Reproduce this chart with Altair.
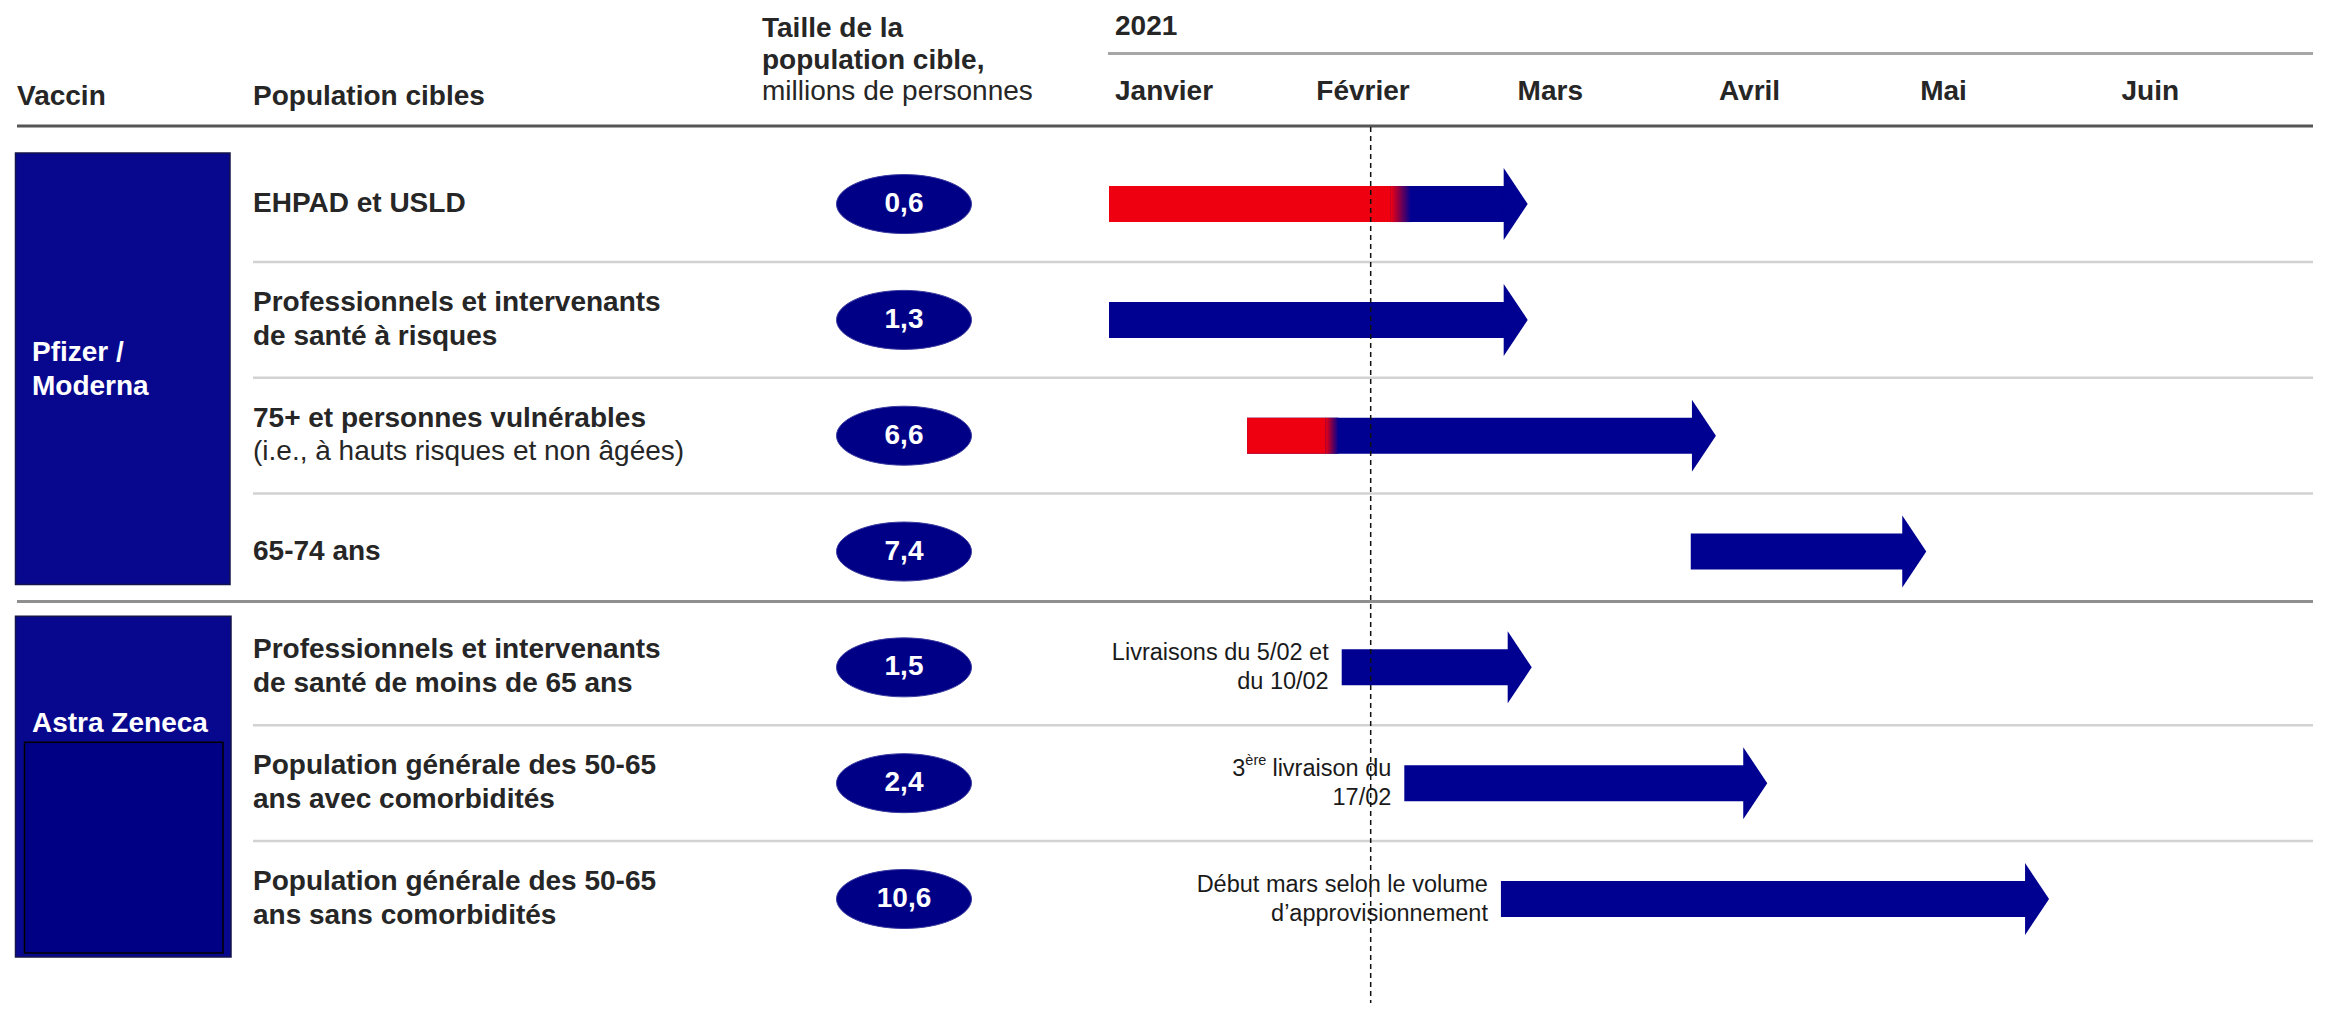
import altair as alt
import pandas as pd

# ---------------- data ----------------
vaccines = ["Pfizer / Moderna", "Astra Zeneca"]
vaccine_display = ["Pfizer /\nModerna", "Astra Zeneca"]
vaccine_first_row = [0, 4]
vaccine_last_row = [3, 6]

row_vaccine = ["Pfizer / Moderna"] * 4 + ["Astra Zeneca"] * 3
row_order = [0, 1, 2, 3, 4, 5, 6]
population = [
    "EHPAD et USLD",
    "Professionnels et intervenants\nde santé à risques",
    "75+ et personnes vulnérables",
    "65-74 ans",
    "Professionnels et intervenants\nde santé de moins de 65 ans",
    "Population générale des 50-65\nans avec comorbidités",
    "Population générale des 50-65\nans sans comorbidités",
]
population_detail = ["", "", "(i.e., à hauts risques et non âgées)", "", "", "", ""]
target_size_millions = [0.6, 1.3, 6.6, 7.4, 1.5, 2.4, 10.6]
# months after 1 January 2021 (0 = début janvier)
start_month = [0.0, 0.0, 0.686, 2.89, 1.156, 1.467, 1.947]
end_month = [2.08, 2.08, 3.015, 4.06, 2.10, 3.27, 4.67]
red_until_month = [1.40, None, 1.075, None, None, None, None]
blue_from_month = [1.50, None, 1.14, None, None, None, None]
note_text = ["", "", "", "",
             "Livraisons du 5/02 et\ndu 10/02",
             "livraison du\n17/02",
             "Début mars selon le volume\nd’approvisionnement"]
note_prefix = ["", "", "", "", "", "3", ""]
note_sup = ["", "", "", "", "", "ère", ""]

months = ["Janvier", "Février", "Mars", "Avril", "Mai", "Juin"]
month_number = [0, 1, 2, 3, 4, 5]
year_label = "2021"
today_month = 1.30

# ---------------- tables ----------------
groups = pd.DataFrame({"vaccine": vaccines, "display": vaccine_display,
                       "first_row": vaccine_first_row, "last_row": vaccine_last_row})
rows = pd.DataFrame({
    "vaccine": row_vaccine, "row": row_order, "population": population,
    "detail": population_detail, "size": target_size_millions,
    "start": start_month, "end": end_month,
    "red_until": red_until_month, "blue_from": blue_from_month,
    "note": note_text, "prefix": note_prefix, "sup": note_sup,
})
seps = pd.DataFrame({"y": [r + 0.5 for r, v, nv in zip(row_order, row_vaccine, row_vaccine[1:]) if v == nv]})
group_sep = pd.DataFrame({"y": [(vaccine_last_row[0] + vaccine_first_row[1]) / 2]})
month_df = pd.DataFrame({"month": months, "m": month_number})
year_df = pd.DataFrame({"year": [year_label], "m": [0]})
today_df = pd.DataFrame({"m": [today_month]})

# ---------------- layout / style ----------------
FONT = "Liberation Sans"
W, H = 2318, 995
ROW_PX, ROW0_PX = 117, 193
MONTH_PX, MONTH0_PX = 201.3, 1101
TEXT = "#262626"
NAVY = "#000091"
BOX = "#08088f"
RED = "#ee0010"

xscale = alt.Scale(domain=[-MONTH0_PX / MONTH_PX, (W - MONTH0_PX) / MONTH_PX], range=[0, W], nice=False, zero=False)
yscale = alt.Scale(domain=[-ROW0_PX / ROW_PX, (H - ROW0_PX) / ROW_PX], range=[0, H], nice=False, zero=False)


def X(f):
    return alt.X(f, type="quantitative", scale=xscale, axis=None)


def Y(f):
    return alt.Y(f, type="quantitative", scale=yscale, axis=None)


ELLIPSE = ("M1,0 C1,0.2414 0.5523,0.437 0,0.437 C-0.5523,0.437 -1,0.2414 -1,0 "
           "C-1,-0.2414 -0.5523,-0.437 0,-0.437 C0.5523,-0.437 1,-0.2414 1,0 Z")
HEAD = "M-0.667,-1 L0,0 L-0.667,1 Z"

layers = []

# header texts
def htext(txt, x, y, bold=True, align="left"):
    return alt.Chart(pd.DataFrame({"t": [txt]})).mark_text(
        align=align, baseline="alphabetic", font=FONT, fontSize=28,
        fontWeight="bold" if bold else "normal", color=TEXT
    ).encode(text="t:N", x=alt.value(x), y=alt.value(y))

layers += [
    htext("Vaccin", 9, 97),
    htext("Population cibles", 245, 97),
    htext("Taille de la", 754, 28.5),
    htext("population cible,", 754, 60.5),
    htext("millions de personnes", 754, 92, bold=False),
]
# year + line
layers.append(alt.Chart(year_df).mark_text(align="left", baseline="alphabetic", font=FONT, fontSize=28,
                                           fontWeight="bold", color=TEXT, dx=6)
              .encode(text="year:N", x=X("m"), y=alt.value(27)))
layers.append(alt.Chart(year_df).mark_rule(color="#a6a6a6", strokeWidth=3)
              .encode(x=alt.value(1100), x2=alt.value(2305), y=alt.value(45.5)))
# months
layers.append(alt.Chart(month_df).mark_text(align="left", baseline="alphabetic", font=FONT, fontSize=28,
                                            fontWeight="bold", color=TEXT, dx=6)
              .encode(text="month:N", x=X("m"), y=alt.value(92)))
# header line
layers.append(alt.Chart(year_df).mark_rule(color="#555555", strokeWidth=3)
              .encode(x=alt.value(9), x2=alt.value(2305), y=alt.value(118)))

# row separators
layers.append(alt.Chart(seps).mark_rule(color="#d2d2d2", strokeWidth=2.5)
              .encode(y=Y("y"), x=alt.value(245), x2=alt.value(2305)))
layers.append(alt.Chart(group_sep).mark_rule(color="#8f8f8f", strokeWidth=3, yOffset=-8)
              .encode(y=Y("y"), x=alt.value(9), x2=alt.value(2305)))

# vaccine boxes
pf = alt.Chart(groups).transform_filter(alt.datum.vaccine == vaccines[0])
az = alt.Chart(groups).transform_filter(alt.datum.vaccine == vaccines[1])
layers.append(pf.mark_rect(fill=BOX, stroke="#14144a", strokeWidth=1.5, yOffset=-51, y2Offset=33)
              .encode(x=alt.value(7.5), x2=alt.value(222), y=Y("first_row"), y2=alt.Y2("last_row")))
layers.append(az.mark_rect(fill=BOX, stroke="#14144a", strokeWidth=1.5, yOffset=-51, y2Offset=58)
              .encode(x=alt.value(7.5), x2=alt.value(223), y=Y("first_row"), y2=alt.Y2("last_row")))
layers.append(az.mark_rect(fill="#000084", stroke="#000000", strokeWidth=1.5, yOffset=75, y2Offset=54)
              .encode(x=alt.value(16.5), x2=alt.value(215), y=Y("first_row"), y2=alt.Y2("last_row")))
layers.append(pf.transform_calculate(mid="(datum.first_row + datum.last_row) / 2")
              .mark_text(align="left", baseline="middle", font=FONT, fontSize=28, fontWeight="bold",
                         color="white", lineBreak="\n", lineHeight=34, dy=-25)
              .encode(text="display:N", x=alt.value(24), y=Y("mid")))
layers.append(az.mark_text(align="left", baseline="middle", font=FONT, fontSize=28, fontWeight="bold",
                           color="white", dy=57)
              .encode(text="display:N", x=alt.value(24), y=Y("first_row")))

# population labels
base = alt.Chart(rows)
two_lines = "indexof(datum.population, '\\n') >= 0"
layers.append(base.transform_filter(f"datum.detail == '' && !({two_lines})")
              .mark_text(align="left", baseline="middle", font=FONT, fontSize=28, fontWeight="bold",
                         color=TEXT)
              .encode(text="population:N", x=alt.value(245), y=Y("row")))
layers.append(base.transform_filter(f"datum.detail == '' && {two_lines}")
              .mark_text(align="left", baseline="middle", font=FONT, fontSize=28, fontWeight="bold",
                         color=TEXT, lineBreak="\n", lineHeight=34, dy=-17)
              .encode(text="population:N", x=alt.value(245), y=Y("row")))
layers.append(base.transform_filter("datum.detail != ''")
              .mark_text(align="left", baseline="middle", font=FONT, fontSize=28, fontWeight="bold",
                         color=TEXT, dy=-17)
              .encode(text="population:N", x=alt.value(245), y=Y("row")))
layers.append(base.transform_filter("datum.detail != ''")
              .mark_text(align="left", baseline="middle", font=FONT, fontSize=28,
                         color=TEXT, dy=16)
              .encode(text="detail:N", x=alt.value(245), y=Y("row")))

# target size ellipses
layers.append(base.mark_point(shape=ELLIPSE, size=135 ** 2, filled=True, fill="#000086", opacity=1,
                              stroke="#3a3aa0", strokeWidth=1)
              .encode(x=alt.value(896), y=Y("row")))
layers.append(base.transform_calculate(lbl="replace(format(datum.size, '.1f'), '.', ',')")
              .mark_text(align="center", baseline="middle", font=FONT, fontSize=28, fontWeight="bold",
                         color="white")
              .encode(text="lbl:N", x=alt.value(896), y=Y("row")))

# arrows
layers.append(base.mark_bar(orient="horizontal", size=36, color=NAVY, x2Offset=-18)
              .encode(x=X("start"), x2=alt.X2("end"), y=Y("row")))
reds = base.transform_filter("isValid(datum.red_until) && isFinite(datum.red_until)")
layers.append(reds.mark_bar(orient="horizontal", size=36, color=RED)
              .encode(x=X("start"), x2=alt.X2("red_until"), y=Y("row")))
layers.append(reds.mark_bar(orient="horizontal", size=36,
                            color=alt.Gradient(gradient="linear",
                                               stops=[alt.GradientStop(color=RED, offset=0),
                                                      alt.GradientStop(color=NAVY, offset=1)],
                                               x1=0, x2=1, y1=0, y2=0))
              .encode(x=X("red_until"), x2=alt.X2("blue_from"), y=Y("row")))
layers.append(base.mark_point(shape=HEAD, size=72 ** 2, filled=True, fill=NAVY, opacity=1, strokeWidth=0)
              .encode(x=X("end"), y=Y("row")))

# delivery notes
notes = base.transform_filter("datum.note != ''")
layers.append(notes.mark_text(align="right", baseline="middle", font=FONT, fontSize=23.5, color="#1a1a1a",
                              lineBreak="\n", lineHeight=29, dx=-13, dy=-14.5)
              .encode(text="note:N", x=X("start"), y=Y("row")))
sups = base.transform_filter("datum.sup != ''")
layers.append(sups.mark_text(align="right", baseline="middle", font=FONT, fontSize=14.5, color="#1a1a1a",
                             dx=-138, dy=-22)
              .encode(text="sup:N", x=X("start"), y=Y("row")))
layers.append(sups.mark_text(align="right", baseline="middle", font=FONT, fontSize=23.5, color="#1a1a1a",
                             dx=-159, dy=-14.5)
              .encode(text="prefix:N", x=X("start"), y=Y("row")))

# today marker
layers.append(alt.Chart(today_df).mark_rule(color="#111111", strokeWidth=1.5, strokeDash=[5, 4])
              .encode(x=X("m"), y=alt.value(119), y2=alt.value(H)))

chart = alt.layer(*layers).properties(
    width=W, height=H, padding=0, autosize=alt.AutoSizeParams(type="none")
).configure_view(stroke=None)

chart.save("out.html", embed_options={"renderer": "svg", "actions": False})
